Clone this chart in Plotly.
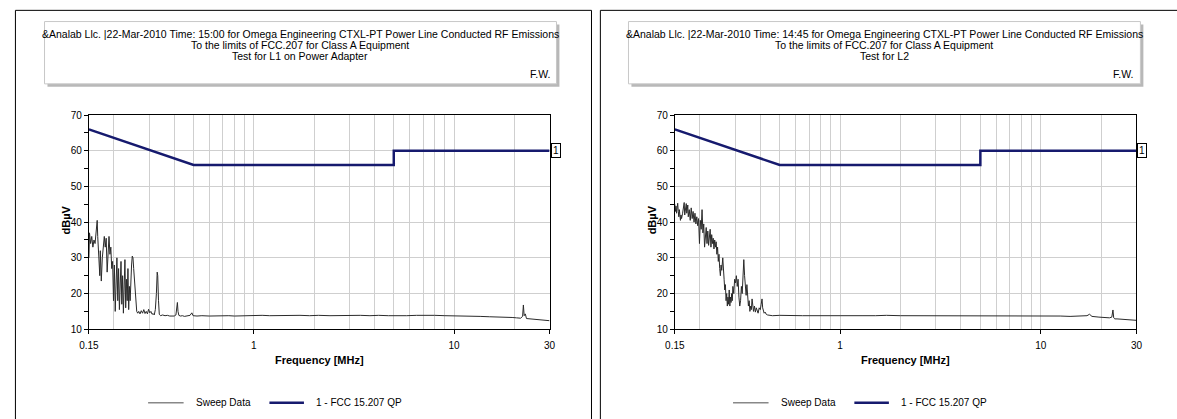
import math
import plotly.graph_objects as go

W, H = 1177, 419

# ---------------- data ----------------
limit_freq = [0.15, 0.5, 5.0, 5.0, 30.0]
limit_db = [66.0, 56.0, 56.0, 60.0, 60.0]

l1_freq = [0.150, 0.151, 0.153, 0.155, 0.157, 0.159, 0.161, 0.163, 0.165, 0.166,
           0.168, 0.170, 0.171, 0.173, 0.175, 0.177, 0.179, 0.181, 0.183, 0.185,
           0.187, 0.189, 0.191, 0.193, 0.195, 0.197, 0.199, 0.201, 0.203, 0.205,
           0.207, 0.209, 0.211, 0.213, 0.215, 0.217, 0.219, 0.221, 0.223, 0.225,
           0.227, 0.229, 0.231, 0.233, 0.235, 0.237, 0.239, 0.241, 0.243, 0.245,
           0.247, 0.249, 0.251, 0.254, 0.257, 0.260, 0.263, 0.266, 0.270, 0.274,
           0.278, 0.282, 0.286, 0.290, 0.294, 0.298, 0.302, 0.306, 0.310, 0.314,
           0.318, 0.322, 0.326, 0.329, 0.331, 0.334, 0.337, 0.342, 0.350, 0.360,
           0.370, 0.380, 0.390, 0.400, 0.408, 0.412, 0.415, 0.418, 0.422, 0.430,
           0.440, 0.450, 0.460, 0.470, 0.480, 0.490, 0.497, 0.52, 0.55, 0.60,
           0.65, 0.70, 0.75, 0.80, 0.90, 1.0, 1.1, 1.2, 1.35, 1.5,
           1.7, 1.9, 2.1, 2.4, 2.7, 3.0, 3.4, 3.8, 4.2, 4.7,
           5.2, 5.8, 6.5, 7.2, 8.0, 9.0, 10.0, 11.0, 12.0, 13.5,
           15.0, 16.5, 18.0, 19.5, 20.5, 21.5, 22.0, 22.2, 22.4, 22.7,
           23.0, 24.0, 25.0, 26.5, 28.0, 29.0, 30.0]
l1_db = [30.0, 37.0, 34.0, 36.0, 33.0, 35.0, 34.0, 37.0, 40.5, 36.0,
         28.0, 25.0, 32.0, 23.5, 30.0, 34.0, 36.0, 33.0, 35.5, 26.0,
         34.0, 36.0, 31.0, 33.0, 27.0, 29.0, 18.0, 28.0, 15.0, 25.0,
         30.0, 18.0, 27.0, 15.5, 22.0, 29.0, 17.0, 25.0, 14.5, 20.0,
         29.5, 16.0, 24.0, 18.0, 27.0, 15.5, 22.0, 18.0, 25.0, 28.0,
         30.5, 30.0, 27.0, 22.0, 18.0, 15.0, 14.5, 15.0, 14.3, 15.2,
         14.5, 15.5, 14.4, 15.0, 14.3, 15.6, 14.6, 15.0, 14.2, 14.4,
         14.0, 15.5, 20.0, 26.0, 25.0, 18.0, 14.2, 13.8, 14.0, 13.8,
         13.9, 13.7, 13.8, 13.7, 14.0, 16.5, 17.5, 15.0, 13.9, 13.7,
         13.8, 13.6, 13.7, 13.6, 13.9, 14.6, 13.8, 13.7, 13.8, 13.7,
         13.8, 13.7, 13.8, 13.7, 13.8, 13.8, 13.9, 13.8, 13.9, 13.8,
         13.9, 13.8, 13.9, 13.8, 13.9, 13.8, 13.9, 13.8, 13.9, 13.8,
         13.9, 13.8, 13.9, 13.8, 13.9, 13.8, 13.8, 13.7, 13.7, 13.6,
         13.5, 13.5, 13.4, 13.3, 13.2, 13.1, 13.6, 16.8, 13.8, 14.3,
         13.0, 12.9, 12.8, 12.7, 12.6, 12.6, 12.4]

l2_freq = [0.150, 0.151, 0.152, 0.153, 0.154, 0.155, 0.156, 0.157, 0.158, 0.159,
           0.160, 0.161, 0.162, 0.164, 0.166, 0.167, 0.168, 0.170, 0.171, 0.172,
           0.174, 0.175, 0.177, 0.179, 0.181, 0.183, 0.185, 0.187, 0.189, 0.191,
           0.193, 0.195, 0.197, 0.199, 0.201, 0.203, 0.205, 0.207, 0.209, 0.211,
           0.213, 0.215, 0.217, 0.219, 0.221, 0.223, 0.225, 0.227, 0.229, 0.231,
           0.233, 0.235, 0.237, 0.239, 0.241, 0.243, 0.245, 0.247, 0.249, 0.251,
           0.253, 0.255, 0.257, 0.260, 0.262, 0.264, 0.266, 0.268, 0.270, 0.272,
           0.274, 0.276, 0.278, 0.280, 0.282, 0.284, 0.286, 0.288, 0.290, 0.292,
           0.295, 0.298, 0.301, 0.304, 0.307, 0.310, 0.313, 0.316, 0.319, 0.322,
           0.325, 0.328, 0.331, 0.334, 0.337, 0.340, 0.343, 0.346, 0.349, 0.352,
           0.355, 0.358, 0.361, 0.364, 0.367, 0.370, 0.374, 0.378, 0.382, 0.386,
           0.390, 0.395, 0.400, 0.404, 0.408, 0.411, 0.414, 0.418, 0.423, 0.428,
           0.435, 0.445, 0.46, 0.50, 0.55, 0.60, 0.65, 0.70, 0.80, 0.90,
           1.0, 1.15, 1.3, 1.5, 1.7, 2.0, 2.3, 2.7, 3.1, 3.6,
           4.2, 4.8, 5.5, 6.3, 7.2, 8.2, 9.5, 11.0, 12.5, 14.0,
           15.5, 17.0, 17.5, 18.0, 19.5, 21.0, 22.0, 22.6, 22.9, 23.1,
           23.4, 24.0, 25.5, 27.0, 28.5, 30.0]
l2_db = [45.0, 43.0, 44.5, 42.5, 44.0, 45.3, 43.0, 41.5, 43.5, 42.0,
         40.5, 42.0, 41.0, 42.5, 44.0, 45.5, 42.0, 44.5, 45.2, 42.5,
         44.8, 41.5, 43.5, 40.5, 44.0, 41.0, 43.0, 40.0, 42.5, 39.5,
         41.5, 39.0, 41.0, 34.0, 40.5, 38.0, 43.5, 37.0, 39.5, 33.0,
         36.0, 38.5, 34.0, 37.5, 33.5, 36.0, 38.0, 33.0, 36.5, 34.0,
         35.5, 32.5, 35.0, 33.0, 34.5, 31.0, 33.0, 29.0, 31.0, 27.0,
         25.0, 28.0, 26.5, 30.0, 28.0, 24.0, 21.0, 22.5, 18.0, 20.0,
         16.5, 19.0, 17.0, 21.0, 16.5, 19.0, 17.5, 20.0, 18.0, 22.0,
         20.0, 24.0, 23.0, 25.0, 22.0, 24.0, 19.0, 16.5, 18.0, 22.0,
         20.0, 26.0, 29.5, 25.0, 22.0, 19.5, 22.5, 19.0, 16.5, 18.0,
         15.0, 16.5, 15.5, 18.5, 16.0, 15.0, 16.5, 14.8, 16.0, 15.0,
         14.5, 16.0, 15.5, 17.0, 18.5, 16.0, 15.0, 14.5, 14.8, 14.2,
         14.0, 13.9, 13.8, 13.9, 13.8, 13.9, 13.8, 13.8, 13.9, 13.8,
         13.8, 13.9, 13.8, 13.8, 13.9, 13.8, 13.8, 13.9, 13.8, 13.8,
         13.9, 13.8, 13.8, 13.9, 13.8, 13.8, 13.8, 13.7, 13.7, 13.6,
         13.6, 13.8, 14.2, 13.6, 13.4, 13.3, 13.2, 13.4, 15.4, 13.2,
         12.9, 12.9, 12.8, 12.7, 12.6, 12.5]

titles_left = ["&Analab Llc. |22-Mar-2010 Time: 15:00 for Omega Engineering CTXL-PT Power Line Conducted RF Emissions",
               "To the limits of FCC.207 for Class A Equipment",
               "Test for L1 on Power Adapter"]
titles_right = ["&Analab Llc. |22-Mar-2010 Time: 14:45 for Omega Engineering CTXL-PT Power Line Conducted RF Emissions",
                "To the limits of FCC.207 for Class A Equipment",
                "Test for L2"]
author = "F.W."
x_tick_vals = [0.15, 1, 10, 30]
x_tick_text = ["0.15", "1", "10", "30"]
x_minor_vals = [0.2, 0.3, 0.4, 0.5, 0.6, 0.7, 0.8, 0.9, 2, 3, 4, 5, 6, 7, 8, 9, 20]
legend_names = ["Sweep Data", "1 - FCC 15.207 QP"]

# ---------------- style ----------------
FONT = "Liberation Sans, Arial, sans-serif"
NAVY = "#161a6e"
SWEEP = "#2a2a2a"
GRID = "#cfcfcf"
TF = 10.5


def px(x):
    return x / W


def py(y):
    return 1 - y / H


fig = go.Figure()

panels = [
    dict(xa="x", ya="y", l1=l1_freq, d1=l1_db, titles=titles_left,
         plot=(80, 547), off=0),
    dict(xa="x2", ya="y2", l1=l2_freq, d1=l2_db, titles=titles_right,
         plot=(674, 1142), off=592),
]

shapes = []
annotations = []

for i, p in enumerate(panels):
    fig.add_trace(go.Scatter(x=p["l1"], y=p["d1"], mode="lines",
                             line=dict(color=SWEEP, width=1),
                             xaxis=p["xa"], yaxis=p["ya"], showlegend=False,
                             name=legend_names[0]))
    fig.add_trace(go.Scatter(x=limit_freq, y=limit_db, mode="lines",
                             line=dict(color=NAVY, width=2.5),
                             xaxis=p["xa"], yaxis=p["ya"], showlegend=False,
                             name=legend_names[1]))
    off = p["off"]
    # panel border
    if i == 0:
        shapes.append(dict(type="rect", xref="paper", yref="paper",
                           x0=px(5.5), x1=px(589.5), y0=-0.1, y1=py(5.5),
                           line=dict(color="black", width=1)))
    else:
        shapes.append(dict(type="rect", xref="paper", yref="paper",
                           x0=px(598.5), x1=1.1, y0=-0.1, y1=py(5.5),
                           line=dict(color="black", width=1)))
    # title box with shadow
    bx0, bx1, by0, by1 = 35 + off, 554 + off, 17, 81
    shapes.append(dict(type="rect", xref="paper", yref="paper",
                       x0=px(bx0 + 3), x1=px(bx1 + 3), y0=py(by1 + 3), y1=py(by0 + 3),
                       fillcolor="#b8b8b8", line=dict(width=0), layer="below"))
    shapes.append(dict(type="rect", xref="paper", yref="paper",
                       x0=px(bx0), x1=px(bx1), y0=py(by1), y1=py(by0),
                       fillcolor="white", line=dict(color="#c8c8c8", width=1), layer="below"))
    cx = (bx0 + bx1) / 2
    for j, t in enumerate(p["titles"]):
        annotations.append(dict(text=t, xref="paper", yref="paper", x=px(cx),
                                y=py(29.5 + 11.5 * j), xanchor="center", yanchor="middle",
                                showarrow=False, font=dict(family=FONT, size=TF, color="black")))
    annotations.append(dict(text=author, xref="paper", yref="paper", x=px(bx1 - 5),
                            y=py(70.5), xanchor="right", yanchor="middle",
                            showarrow=False, font=dict(family=FONT, size=TF, color="black")))
    # marker "1"
    annotations.append(dict(text="1", xref=p["xa"], yref=p["ya"], x=math.log10(30), y=60,
                            xanchor="left", yanchor="middle", showarrow=False, xshift=1,
                            bordercolor="black", borderwidth=1, borderpad=1,
                            bgcolor="white", font=dict(family=FONT, size=10, color="black")))
    # axis titles
    pl, pr = p["plot"]
    annotations.append(dict(text="<b>Frequency [MHz]</b>", xref="paper", yref="paper",
                            x=px((pl + pr) / 2), y=py(365), xanchor="center", yanchor="middle",
                            showarrow=False, font=dict(family=FONT, size=11, color="black")))
    annotations.append(dict(text="<b>dBµV</b>", xref="paper", yref="paper",
                            x=px(pl - 23), y=py(221), xanchor="center", yanchor="middle",
                            textangle=-90, showarrow=False,
                            font=dict(family=FONT, size=11, color="black")))
    # legend (manual)
    lx = 140 + off + (1 if i else 0)
    ly = 408.5
    shapes.append(dict(type="line", xref="paper", yref="paper",
                       x0=px(lx), x1=px(lx + 36), y0=py(ly), y1=py(ly),
                       line=dict(color="#888888", width=1.5)))
    annotations.append(dict(text=legend_names[0], xref="paper", yref="paper",
                            x=px(lx + 47), y=py(ly), xanchor="left", yanchor="middle",
                            showarrow=False, font=dict(family=FONT, size=10, color="black")))
    shapes.append(dict(type="line", xref="paper", yref="paper",
                       x0=px(lx + 123), x1=px(lx + 158), y0=py(ly), y1=py(ly),
                       line=dict(color=NAVY, width=2.5)))
    annotations.append(dict(text=legend_names[1], xref="paper", yref="paper",
                            x=px(lx + 168), y=py(ly), xanchor="left", yanchor="middle",
                            showarrow=False, font=dict(family=FONT, size=10, color="black")))

xcommon = dict(type="log", range=[math.log10(0.15), math.log10(30)],
               tickvals=x_tick_vals, ticktext=x_tick_text,
               showgrid=True, gridcolor=GRID, gridwidth=1,
               minor=dict(tickvals=x_minor_vals, showgrid=True, gridcolor=GRID, ticks=""),
               showline=True, linecolor="black", linewidth=1, mirror=True,
               ticks="outside", ticklen=4, tickcolor="black", ticklabelstandoff=3,
               tickfont=dict(family=FONT, size=10, color="black"), zeroline=False,
               fixedrange=True)
ycommon = dict(range=[10, 70], dtick=10, tick0=10,
               showgrid=True, gridcolor=GRID, gridwidth=1,
               minor=dict(dtick=5, ticks="outside", ticklen=4, tickcolor="black", showgrid=False),
               showline=True, linecolor="black", linewidth=1, mirror=True,
               ticks="outside", ticklen=4, tickcolor="black",
               tickfont=dict(family=FONT, size=10, color="black"), zeroline=False,
               fixedrange=True)

ydom = [py(333), py(113)]
fig.update_layout(
    width=W, height=H,
    margin=dict(l=0, r=0, t=0, b=0),
    paper_bgcolor="white", plot_bgcolor="white",
    showlegend=False,
    xaxis=dict(domain=[px(80), px(547)], anchor="y", **xcommon),
    yaxis=dict(domain=ydom, anchor="x", **ycommon),
    xaxis2=dict(domain=[px(674), px(1142)], anchor="y2", **xcommon),
    yaxis2=dict(domain=ydom, anchor="x2", **ycommon),
    shapes=shapes,
    annotations=annotations,
    font=dict(family=FONT),
    hovermode=False,
)

fig.write_html("out.html", config={"displayModeBar": False, "staticPlot": True},
               post_script="document.body.style.margin='0';document.body.style.padding='0';document.body.style.overflow='hidden';")
